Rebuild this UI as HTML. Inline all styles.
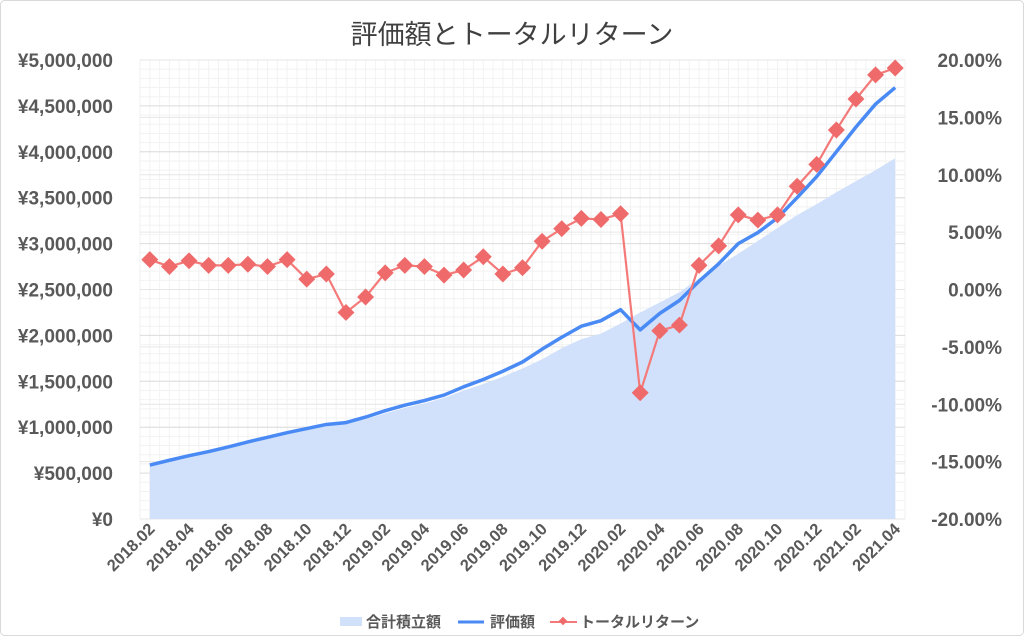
<!DOCTYPE html>
<html><head><meta charset="utf-8"><style>
body{margin:0;background:#fff;}
svg text{font-family:"Liberation Sans","Noto Sans CJK JP",sans-serif;}
</style></head><body>
<svg id="chart" width="1024" height="636" xmlns="http://www.w3.org/2000/svg">
<rect x="0.5" y="0.5" width="1023" height="635" rx="4" fill="#fff" stroke="#d9d9d9"/>
<text x="512" y="44" text-anchor="middle" font-size="27" fill="#404040">評価額とトータルリターン</text>
<g id="grid"></g>
<g id="marks"></g>
<g id="axes"></g>
<g>
<g><rect x="340" y="617" width="22" height="9" fill="#d1e1fb"/><text x="366" y="627" font-size="15" font-weight="bold" fill="#595959">合計積立額</text></g>
<g><line x1="458" y1="622" x2="484" y2="622" stroke="#4a8af4" stroke-width="3"/><text x="490" y="627" font-size="15" font-weight="bold" fill="#595959">評価額</text></g>
<g><line x1="550" y1="622" x2="577" y2="622" stroke="#f47a7a" stroke-width="2"/><rect x="560" y="618" width="6" height="6" transform="rotate(45 563 621)" fill="#ef6b6b"/><text x="580" y="627" font-size="15" font-weight="bold" fill="#595959">トータルリターン</text></g>
</g>
</svg>
<script>
const categories=["2018.02","2018.03","2018.04","2018.05","2018.06","2018.07","2018.08","2018.09","2018.10","2018.11","2018.12","2019.01","2019.02","2019.03","2019.04","2019.05","2019.06","2019.07","2019.08","2019.09","2019.10","2019.11","2019.12","2020.01","2020.02","2020.03","2020.04","2020.05","2020.06","2020.07","2020.08","2020.09","2020.10","2020.11","2020.12","2021.01","2021.02","2021.03","2021.04"];
const valueSeries=[588,640,690,735,785,840,890,940,985,1030,1050,1110,1180,1240,1290,1350,1440,1520,1610,1710,1850,1980,2100,2160,2280,2060,2240,2380,2590,2780,3000,3120,3280,3500,3730,4000,4270,4520,4700];
const contribSeries=[580,630,680,725,775,825,875,925,970,1010,1040,1090,1150,1210,1260,1320,1400,1470,1550,1640,1740,1860,1960,2020,2130,2250,2360,2470,2620,2760,2890,3030,3170,3310,3430,3560,3680,3800,3930];
const returnSeries=[2.6,2.0,2.5,2.1,2.1,2.2,2.0,2.6,0.9,1.35,-2.0,-0.65,1.45,2.1,2.0,1.25,1.7,2.85,1.35,1.9,4.2,5.3,6.2,6.1,6.6,-9.0,-3.6,-3.1,2.1,3.8,6.5,6.05,6.5,9.0,10.9,13.9,16.6,18.7,19.3];
const leftTicks=[0,500,1000,1500,2000,2500,3000,3500,4000,4500,5000];
const leftTickLabels=["¥0","¥500,000","¥1,000,000","¥1,500,000","¥2,000,000","¥2,500,000","¥3,000,000","¥3,500,000","¥4,000,000","¥4,500,000","¥5,000,000"];
const rightTicks=[-20,-15,-10,-5,0,5,10,15,20];
const rightTickLabels=["-20.00%","-15.00%","-10.00%","-5.00%","0.00%","5.00%","10.00%","15.00%","20.00%"];

const L=140,R=905,T=60,B=519,NS="http://www.w3.org/2000/svg";
const bw=(R-L)/categories.length;
const x=i=>L+bw*(i+0.5);
const yL=v=>B-(v/5000)*(B-T);
const yR=p=>B-((p+20)/40)*(B-T);
function mk(tag,attrs,parent){const e=document.createElementNS(NS,tag);for(const k in attrs)e.setAttribute(k,attrs[k]);parent.appendChild(e);return e;}
const grid=document.getElementById('grid'),marks=document.getElementById('marks'),axes=document.getElementById('axes');
for(let v=0;v<=5000;v+=100){const l=mk('line',{x1:L,x2:R,y1:yL(v),y2:yL(v),stroke:'#f2f2f2','stroke-width':1},grid);}
for(let i=0;i<=categories.length*2;i++){const xx=L+i*bw/2;const l=mk('line',{x1:xx,x2:xx,y1:T,y2:B,stroke:'#f2f2f2','stroke-width':1},grid);}
leftTicks.forEach(v=>{const l=mk('line',{x1:L,x2:R,y1:yL(v),y2:yL(v),stroke:'#dcdcdc','stroke-width':1},grid);});
rightTicks.forEach(p=>{const l=mk('line',{x1:L,x2:R,y1:yR(p),y2:yR(p),stroke:'#e6e6e6','stroke-width':1},grid);});
let d='M'+x(0)+','+B;contribSeries.forEach((v,i)=>d+=' L'+x(i)+','+yL(v));d+=' L'+x(contribSeries.length-1)+','+B+' Z';
const area=mk('path',{d:d,fill:'#d1e1fb'},marks);


const vl=mk('polyline',{points:valueSeries.map((v,i)=>x(i)+','+yL(v)).join(' '),fill:'none',stroke:'#4a8af4','stroke-width':3.5,'stroke-linejoin':'round'},marks);


const rl=mk('polyline',{points:returnSeries.map((p,i)=>x(i)+','+yR(p)).join(' '),fill:'none',stroke:'#f47a7a','stroke-width':2.2},marks);


returnSeries.forEach((p,i)=>{const cx=x(i),cy=yR(p);const m=mk('rect',{x:cx-6,y:cy-6,width:12,height:12,fill:'#ef6b6b',transform:'rotate(45 '+cx+' '+cy+')'},marks);

});
leftTicks.forEach((v,i)=>{const t=mk('text',{x:113,y:yL(v)+7,'text-anchor':'end','font-size':19,'font-weight':'bold',fill:'#595959'},axes);t.textContent=leftTickLabels[i];

});
rightTicks.forEach((p,i)=>{const t=mk('text',{x:1002,y:yR(p)+7,'text-anchor':'end','font-size':19,'font-weight':'bold',fill:'#595959'},axes);t.textContent=rightTickLabels[i];

});
categories.forEach((c,i)=>{if(i%2)return;const xx=x(i)+6,yy=530;const t=mk('text',{x:xx,y:yy,'text-anchor':'end','font-size':16.5,'font-weight':'bold',fill:'#595959',transform:'rotate(-45 '+xx+' '+yy+')'},axes);t.textContent=c;

});
</script>
</body></html>
